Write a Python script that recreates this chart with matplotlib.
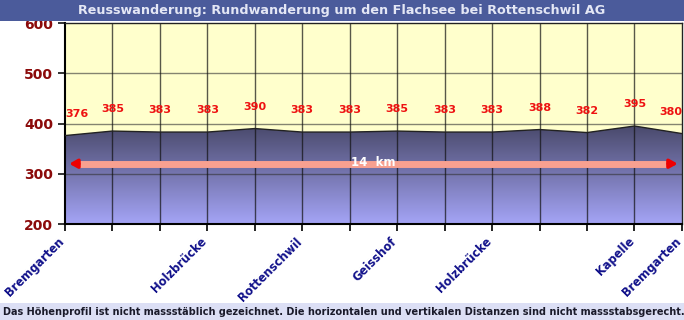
import numpy as np
import matplotlib.pyplot as plt
from matplotlib.patches import Polygon

# data
heights = [376, 385, 383, 383, 390, 383, 383, 385, 383, 383, 388, 382, 395, 380]
place_idx = [0, 3, 5, 7, 9, 12, 13]
place_names = ['Bremgarten', 'Holzbrücke', 'Rottenschwil', 'Geisshof',
               'Holzbrücke', 'Kapelle', 'Bremgarten']
distance_label = '14  km'
title = 'Reusswanderung: Rundwanderung um den Flachsee bei Rottenschwil AG'
footer = ('Das Höhenprofil ist nicht massstäblich gezeichnet. '
          'Die horizontalen und vertikalen Distanzen sind nicht massstabsgerecht.')

x = np.arange(len(heights))
ymin, ymax = 200, 600

fig = plt.figure(figsize=(6.84, 3.2), dpi=100)
fig.patch.set_facecolor('white')

# title bar and footer bar
fig.patches.append(plt.Rectangle((0, 0.935), 1, 0.065, transform=fig.transFigure,
                                 facecolor='#4b5b9b', edgecolor='none', zorder=0))
fig.text(0.5, 0.967, title, ha='center', va='center', color='#e4e7f5',
         fontsize=9.2, fontweight='bold', family='DejaVu Sans')
fig.patches.append(plt.Rectangle((0, 0), 1, 0.053, transform=fig.transFigure,
                                 facecolor='#dcdff5', edgecolor='none', zorder=0))
fig.text(0.004, 0.026, footer, ha='left', va='center', color='#1a1a2a',
         fontsize=7.0, fontweight='bold', family='DejaVu Sans')

ax = fig.add_axes([0.095, 0.30, 0.902, 0.628])
ax.set_xlim(0, len(heights) - 1)
ax.set_ylim(ymin, ymax)
ax.set_facecolor('#ffffcc')

# gradient fill under profile
grad = np.linspace(0, 1, 256).reshape(-1, 1)
cmap = plt.matplotlib.colors.LinearSegmentedColormap.from_list('g', ['#a4a4f6', '#4a4a6c'])
im = ax.imshow(grad, extent=[0, len(heights) - 1, ymin, max(heights)], origin='lower',
               aspect='auto', cmap=cmap, zorder=1)
poly = Polygon(list(zip(x, heights)) + [(x[-1], ymin), (0, ymin)], closed=True,
               facecolor='none', edgecolor='none')
ax.add_patch(poly)
im.set_clip_path(poly)
ax.plot(x, heights, color='#222222', lw=1, zorder=3)

# grid
for v in [300, 400, 500]:
    ax.axhline(v, color='#333333', lw=1, alpha=0.6, zorder=2)
for xi in x[1:-1]:
    ax.axvline(xi, color='#111111', lw=1, alpha=0.7, zorder=2)

# value labels
for xi, h in zip(x, heights):
    ax.annotate(str(h), (xi, h), xytext=(0, 12), textcoords='offset points',
                ha='left' if xi == 0 else ('right' if xi == x[-1] else 'center'),
                va='bottom', color='#ee1111', fontsize=8, fontweight='bold', zorder=5)

# distance arrow
ax.plot([0.3, len(heights) - 1.3], [320, 320], color='#f8a090', lw=5,
        solid_capstyle='butt', zorder=4)
ax.annotate('', xy=(0.03, 320), xytext=(0.35, 320),
            arrowprops=dict(arrowstyle='-|>,head_width=0.25,head_length=0.45',
                            color='#ee0000', lw=2.5), zorder=5)
ax.annotate('', xy=(len(heights) - 1.03, 320), xytext=(len(heights) - 1.35, 320),
            arrowprops=dict(arrowstyle='-|>,head_width=0.25,head_length=0.45',
                            color='#ee0000', lw=2.5), zorder=5)
ax.text((len(heights) - 1) / 2, 323, distance_label, ha='center', va='center',
        color='white', fontsize=8.5, fontweight='bold', zorder=6)

# axes styling
for s in ['top', 'right']:
    ax.spines[s].set_color('#222222')
    ax.spines[s].set_linewidth(1)
ax.spines['left'].set_linewidth(1.5)
ax.spines['bottom'].set_linewidth(1.5)
ax.set_yticks([200, 300, 400, 500, 600])
ax.tick_params(axis='y', colors='#111111', labelcolor='#8b0a0a', labelsize=10,
               length=5, width=1.2)
for lbl in ax.get_yticklabels():
    lbl.set_fontweight('bold')
ax.set_xticks(x)
ax.set_xticklabels([''] * len(x))
ax.tick_params(axis='x', length=5, width=1.2, direction='out')

for i, name in zip(place_idx, place_names):
    ax.annotate(name, (i, ymin), xytext=(-5, -8), textcoords='offset points',
                rotation=45, ha='right', va='top', rotation_mode='anchor',
                color='#10108a', fontsize=8.3, fontweight='bold')

fig.savefig('out.png', dpi=100)
